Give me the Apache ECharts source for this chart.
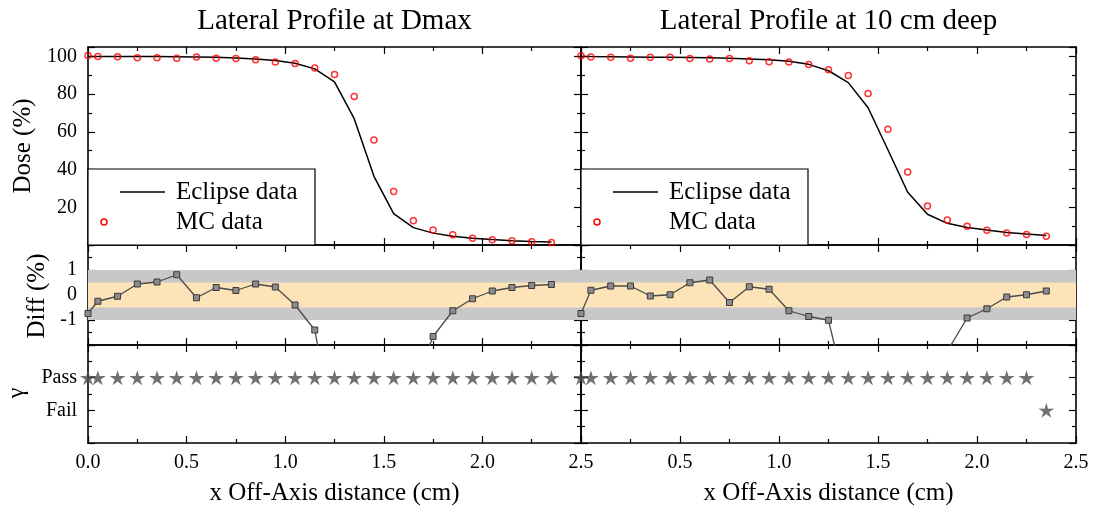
<!DOCTYPE html>
<html>
<head>
<meta charset="utf-8">
<script src="https://cdn.jsdelivr.net/npm/echarts@6/dist/echarts.min.js"></script>
<style>
  html, body { margin: 0; padding: 0; background: #fff; }
  #chart { width: 1096px; height: 507px; }
</style>
</head>
<body>
<div id="chart"></div>
<script>
// Off-axis sample positions (cm), shared by both profiles
const xPos = [0, 0.05, 0.15, 0.25, 0.35, 0.45, 0.55, 0.65, 0.75, 0.85, 0.95, 1.05, 1.15,
              1.25, 1.35, 1.45, 1.55, 1.65, 1.75, 1.85, 1.95, 2.05, 2.15, 2.25, 2.35];

// Profile at Dmax
const dmaxEclipse = [100.0, 99.9, 99.9, 99.9, 99.9, 99.8, 99.7, 99.5, 99.2, 98.7, 97.9, 96.4, 93.4,
                     86.5, 67.0, 36.4, 16.6, 9.2, 6.3, 4.6, 3.6, 2.9, 2.3, 1.9, 1.6];
const dmaxMC = [100.5, 100.0, 99.8, 99.3, 99.3, 99.1, 99.7, 99.1, 98.9, 98.2, 97.1, 96.2, 93.9,
                90.4, 78.7, 55.7, 28.4, 12.9, 7.9, 5.4, 3.6, 2.8, 2.2, 1.7, 1.3];
const dmaxDiff = [-0.74, -0.25, -0.05, 0.44, 0.52, 0.81, -0.11, 0.30, 0.18, 0.44, 0.32, -0.40, -1.40,
                  -5.7, -11.7, -19.3, -11.8, -3.7, -1.66, -0.63, -0.15, 0.16, 0.30, 0.38, 0.42];
const dmaxGamma = ['Pass', 'Pass', 'Pass', 'Pass', 'Pass', 'Pass', 'Pass', 'Pass', 'Pass', 'Pass',
                   'Pass', 'Pass', 'Pass', 'Pass', 'Pass', 'Pass', 'Pass', 'Pass', 'Pass', 'Pass',
                   'Pass', 'Pass', 'Pass', 'Pass', 'Pass'];

// Profile at 10 cm depth
const deepEclipse = [100.0, 99.9, 99.8, 99.7, 99.6, 99.5, 99.4, 99.3, 99.1, 98.7, 98.2, 97.4, 95.8,
                     92.4, 86.1, 72.8, 50.5, 28.0, 16.3, 11.5, 9.3, 7.9, 6.6, 5.8, 5.1];
const deepMC = [100.4, 99.7, 99.5, 99.1, 99.5, 99.5, 98.9, 98.7, 98.9, 97.7, 97.2, 97.0, 95.7,
                92.9, 89.9, 80.3, 61.4, 38.7, 20.7, 13.3, 9.9, 7.8, 6.3, 5.6, 4.7];
const deepDiff = [-0.74, 0.19, 0.36, 0.36, -0.04, 0.01, 0.49, 0.60, -0.30, 0.33, 0.23, -0.63, -0.86,
                  -1.01, -4.3, -8.5, -12.0, -9.5, -5.0, -2.25, -0.92, -0.55, -0.08, 0.01, 0.16];
const deepGamma = ['Pass', 'Pass', 'Pass', 'Pass', 'Pass', 'Pass', 'Pass', 'Pass', 'Pass', 'Pass',
                   'Pass', 'Pass', 'Pass', 'Pass', 'Pass', 'Pass', 'Pass', 'Pass', 'Pass', 'Pass',
                   'Pass', 'Pass', 'Pass', 'Pass', 'Fail'];

// Tolerance bands in the difference panel (%)
const innerBand = [-0.5, 0.5];
const outerBand = [-1, 1];

// Tick labels
const doseTicks = [20, 40, 60, 80, 100];
const diffTicks = [-1, 0, 1];
const gammaTicks = ['Fail', 'Pass'];
const gammaLevel = { Fail: 0, Pass: 1 };

const panelTitles = ['Lateral Profile at Dmax', 'Lateral Profile at 10 cm deep'];
const xTitle = 'x Off-Axis distance (cm)';
const legendNames = ['Eclipse data', 'MC data'];

const FONT = '"Liberation Serif", "Times New Roman", serif';

// Layout
const colLeft = [88, 581];
const colWidth = [493, 495];
const rows = [
  { top: 47, height: 198 },
  { top: 245, height: 100 },
  { top: 345, height: 98 }
];
const yRanges = [
  { min: 0, max: 105, interval: 20 },
  { min: -2, max: 2, interval: 1 },
  { min: -1, max: 2, interval: 1 }
];

const tickStyle = { color: '#000', width: 1.2 };

function frameAxis(extra) {
  return Object.assign({
    type: 'value',
    axisLine: { onZero: false, lineStyle: { color: '#000', width: 1.6 } },
    axisTick: { inside: true, length: 7, lineStyle: tickStyle },
    minorTick: { show: true, splitNumber: 2, length: 4, lineStyle: tickStyle },
    splitLine: { show: false },
    minorSplitLine: { show: false },
    axisLabel: { show: false }
  }, extra);
}

const labelStyle = { show: true, fontFamily: FONT, fontSize: 20, color: '#000', margin: 11 };

const grids = [], xAxes = [], yAxes = [];
for (let c = 0; c < 2; c++) {
  for (let r = 0; r < 3; r++) {
    const g = grids.length;
    grids.push({ left: colLeft[c], width: colWidth[c], top: rows[r].top, height: rows[r].height, containLabel: false });
    const xl = r === 2
      ? Object.assign({}, labelStyle, {
          margin: 10,
          formatter: v => (c === 1 && v === 0) ? '' : v.toFixed(1)
        })
      : { show: false };
    xAxes.push(frameAxis({ gridIndex: g, position: 'bottom', min: 0, max: 2.5, interval: 0.5, axisLabel: xl }));
    xAxes.push(frameAxis({ gridIndex: g, position: 'top', min: 0, max: 2.5, interval: 0.5 }));

    let yl = { show: false };
    if (c === 0) {
      let fmt;
      if (r === 0) fmt = v => doseTicks.includes(v) ? String(v) : '';
      else if (r === 1) fmt = v => diffTicks.includes(v) ? String(v) : '';
      else fmt = v => { const n = gammaTicks.find(k => gammaLevel[k] === v); return n || ''; };
      yl = Object.assign({}, labelStyle, { formatter: fmt });
    }
    yAxes.push(frameAxis(Object.assign({ gridIndex: g, position: 'left', axisLabel: yl }, yRanges[r])));
    yAxes.push(frameAxis(Object.assign({ gridIndex: g, position: 'right' }, yRanges[r])));
  }
}

// Five-pointed star outline for the gamma markers
function starPath() {
  const pts = [];
  for (let k = 0; k < 10; k++) {
    const a = -Math.PI / 2 + k * Math.PI / 5;
    const rad = k % 2 === 0 ? 50 : 18;
    pts.push((50 + rad * Math.cos(a)).toFixed(2) + ' ' + (50 + rad * Math.sin(a)).toFixed(2));
  }
  return 'path://M' + pts.join(' L') + ' Z';
}
const STAR = starPath();

const zip = (xs, ys) => xs.map((x, i) => [x, ys[i]]);

const profiles = [
  { eclipse: dmaxEclipse, mc: dmaxMC, diff: dmaxDiff, gamma: dmaxGamma },
  { eclipse: deepEclipse, mc: deepMC, diff: deepDiff, gamma: deepGamma }
];

const series = [];
profiles.forEach((p, c) => {
  const g0 = c * 3;
  series.push({
    name: legendNames[0], type: 'line', xAxisIndex: 2 * g0, yAxisIndex: 2 * g0,
    data: zip(xPos, p.eclipse), showSymbol: false, symbol: 'none',
    lineStyle: { color: '#000', width: 1.5 }, z: 3, silent: true
  });
  series.push({
    name: legendNames[1], type: 'scatter', xAxisIndex: 2 * g0, yAxisIndex: 2 * g0,
    data: zip(xPos, p.mc), symbol: 'circle', symbolSize: 6,
    itemStyle: { color: 'rgba(255,255,255,0)', borderColor: '#ff0000', borderWidth: 1.5 },
    z: 4, silent: true
  });
  series.push({
    name: 'Diff', type: 'line', xAxisIndex: 2 * (g0 + 1), yAxisIndex: 2 * (g0 + 1),
    data: zip(xPos, p.diff), symbol: 'rect', symbolSize: 6, showAllSymbol: true,
    lineStyle: { color: '#4a4a4a', width: 1.3 },
    itemStyle: { color: '#8c8c8c', borderColor: '#3a3a3a', borderWidth: 1 },
    z: 3, silent: true,
    markArea: {
      silent: true,
      data: [
        [{ yAxis: outerBand[0], itemStyle: { color: '#c8c8c8' } }, { yAxis: outerBand[1] }],
        [{ yAxis: innerBand[0], itemStyle: { color: '#fde4b8' } }, { yAxis: innerBand[1] }]
      ]
    }
  });
  series.push({
    name: 'Gamma', type: 'scatter', xAxisIndex: 2 * (g0 + 2), yAxisIndex: 2 * (g0 + 2),
    data: xPos.map((x, i) => [x, gammaLevel[p.gamma[i]]]),
    symbol: STAR, symbolSize: [16, 15],
    itemStyle: { color: '#4d4d4d' }, z: 4, silent: true
  });
});

// Titles, axis names and legend boxes
const graphic = [];
for (let c = 0; c < 2; c++) {
  const cx = colLeft[c] + colWidth[c] / 2;
  graphic.push({
    type: 'text', x: cx, y: 21,
    style: { text: panelTitles[c], font: '29px ' + FONT, fill: '#000', textAlign: 'center', textVerticalAlign: 'middle' }
  });
  graphic.push({
    type: 'text', x: cx, y: 493,
    style: { text: xTitle, font: '25px ' + FONT, fill: '#000', textAlign: 'center', textVerticalAlign: 'middle' }
  });
  const bx = colLeft[c];
  graphic.push({
    type: 'rect', shape: { x: bx, y: 169, width: 227, height: 76 },
    style: { fill: '#fff', stroke: '#000', lineWidth: 1.2 }, z: 10
  });
  graphic.push({
    type: 'line', shape: { x1: bx + 32, y1: 192, x2: bx + 77, y2: 192 },
    style: { stroke: '#000', lineWidth: 1.5 }, z: 11
  });
  graphic.push({
    type: 'text', x: bx + 88, y: 192,
    style: { text: legendNames[0], font: '25px ' + FONT, fill: '#000', textAlign: 'left', textVerticalAlign: 'middle' }, z: 11
  });
  graphic.push({
    type: 'circle', shape: { cx: bx + 16, cy: 222, r: 3 },
    style: { fill: 'none', stroke: '#ff0000', lineWidth: 1.5 }, z: 11
  });
  graphic.push({
    type: 'text', x: bx + 88, y: 222,
    style: { text: legendNames[1], font: '25px ' + FONT, fill: '#000', textAlign: 'left', textVerticalAlign: 'middle' }, z: 11
  });
}
graphic.push({
  type: 'text', x: 23, y: 146, rotation: Math.PI / 2,
  style: { text: 'Dose (%)', font: '25px ' + FONT, fill: '#000', textAlign: 'center', textVerticalAlign: 'middle' }
});
graphic.push({
  type: 'text', x: 37, y: 296, rotation: Math.PI / 2,
  style: { text: 'Diff (%)', font: '25px ' + FONT, fill: '#000', textAlign: 'center', textVerticalAlign: 'middle' }
});
graphic.push({
  type: 'text', x: 17, y: 393, rotation: Math.PI / 2,
  style: { text: 'γ', font: '24px ' + FONT, fill: '#000', textAlign: 'center', textVerticalAlign: 'middle' }
});

const chart = echarts.init(document.getElementById('chart'), null, { renderer: 'canvas' });
chart.setOption({
  backgroundColor: '#fff',
  animation: false,
  grid: grids,
  xAxis: xAxes,
  yAxis: yAxes,
  series: series,
  graphic: graphic
});
</script>
</body>
</html>
